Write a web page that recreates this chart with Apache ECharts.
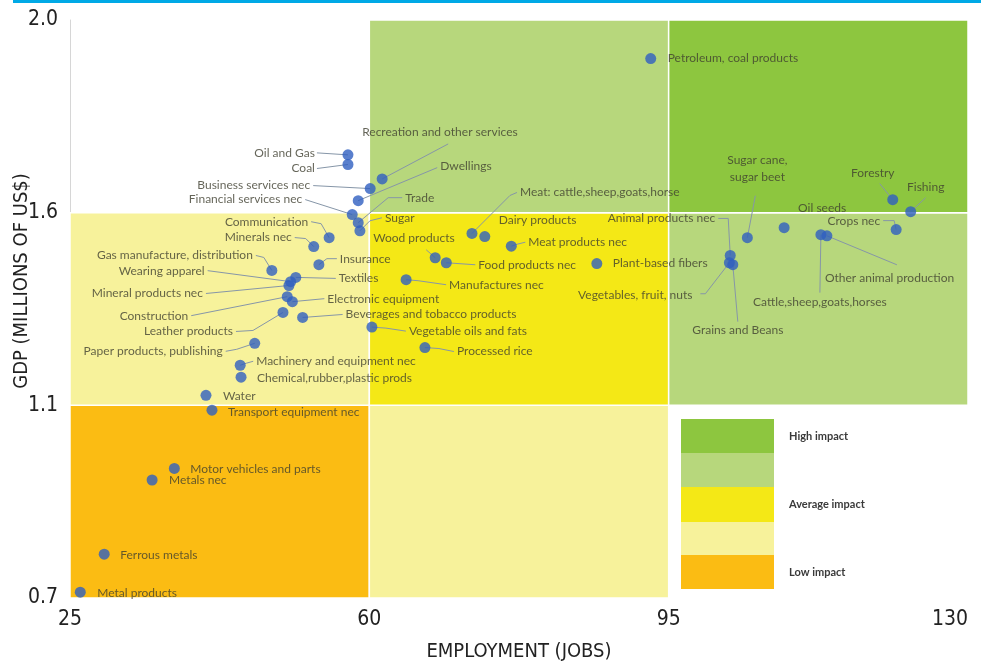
<!DOCTYPE html>
<html>
<head>
<meta charset="utf-8">
<title>GDP vs employment impact</title>
<script src="https://cdn.jsdelivr.net/npm/echarts@6/dist/echarts.min.js"></script>
<style>
  html, body { margin: 0; padding: 0; background: #fff; }
  #main { width: 981px; height: 664px; }
</style>
</head>
<body>
<div id="main"></div>
<script>
  // sectors, employment (jobs) and GDP (millions of US$)
  var sectors = [
    'Petroleum, coal products', 'Oil and Gas', 'Coal', 'Recreation and other services',
    'Business services nec', 'Dwellings', 'Financial services nec', 'Trade', 'Sugar',
    'Communication', 'Minerals nec', 'Insurance', 'Gas manufacture, distribution',
    'Textiles', 'Wearing apparel', 'Mineral products nec', 'Construction',
    'Electronic equipment', 'Leather products', 'Beverages and tobacco products',
    'Paper products, publishing', 'Machinery and equipment nec', 'Chemical,rubber,plastic prods',
    'Water', 'Transport equipment nec', 'Motor vehicles and parts', 'Metals nec',
    'Ferrous metals', 'Metal products', 'Vegetable oils and fats', 'Processed rice',
    'Manufactures nec', 'Wood products', 'Food products nec', 'Meat: cattle,sheep,goats,horse',
    'Dairy products', 'Meat products nec', 'Plant-based fibers', 'Animal products nec',
    'Vegetables, fruit, nuts', 'Grains and Beans', 'Sugar cane,\nsugar beet', 'Oil seeds',
    'Cattle,sheep,goats,horses', 'Other animal production', 'Forestry', 'Fishing', 'Crops nec'
  ];
  var employment = [
    92.9, 57.5, 57.5, 61.5,
    60.1, 58.7, 58.0, 58.7, 58.9,
    55.3, 53.5, 54.1, 48.6,
    51.4, 50.8, 50.6, 50.4,
    51.0, 49.9, 52.2,
    46.6, 44.9, 45.0,
    40.9, 41.6, 37.2, 34.6,
    29.0, 26.2, 60.3, 66.5,
    64.3, 67.7, 69.0, 72.0,
    73.5, 76.6, 86.6, 102.2,
    102.1, 102.5, 104.2, 108.5,
    112.8, 113.5, 121.2, 123.3, 121.6
  ];
  var gdp = [
    1.92, 1.72, 1.70, 1.67,
    1.65, 1.625, 1.595, 1.574, 1.553,
    1.535, 1.512, 1.465, 1.45,
    1.432, 1.421, 1.411, 1.382,
    1.369, 1.341, 1.328,
    1.261, 1.204, 1.173,
    1.126, 1.09, 0.969, 0.945,
    0.791, 0.712, 1.303, 1.25,
    1.426, 1.483, 1.47, 1.546,
    1.538, 1.513, 1.468, 1.489,
    1.47, 1.465, 1.535, 1.561,
    1.543, 1.54, 1.627, 1.602, 1.556
  ];
  var xTicks = [25, 60, 95, 130];
  var yTicks = [0.7, 1.1, 1.6, 2.0];
  var impactLabels = ['High impact', 'Average impact', 'Low impact'];

  // label placement: side, offset from dot, leader line points (relative to dot)
  var labelSpecs = [
    ['R', 17, 0], ['L', -33, -2, [[-31, -2]]], ['L', -33, 4, [[-31, 4]]], ['R', -20, -47, [[66, -35]]],
    ['L', -60, -3, [[-57, -3]]], ['R', 82, -35, [[79, -33]]], ['L', -50, -15, [[-47, -15]]],
    ['R', 47, -25, [[44, -25], [30, -25]]], ['R', 25, -13, [[22, -13], [10, -10]]],
    ['L', -21, -16, [[-18, -16], [-8, -14]]], ['L', -22, -9, [[-19, -9], [-8, -8]]],
    ['R', 21, -6, [[18, -6], [8, -6]]], ['L', -19, -15, [[-16, -15], [-8, -13]]],
    ['R', 43, 1, [[40, 1]]], ['L', -86, -11, [[-83, -11]]], ['L', -86, 8, [[-83, 8]]],
    ['L', -99, 19, [[-96, 19]]], ['R', 35, -3, [[32, -3]]], ['L', -50, 19, [[-47, 19], [-30, 18]]],
    ['R', 43, -3, [[40, -3]]], ['L', -32, 8, [[-29, 8], [-18, 6]]],
    ['R', 16, -4, [[13, -4], [6, -2]]], ['R', 16, 1],
    ['R', 17, 1], ['R', 16, 2], ['R', 16, 1], ['R', 17, 0],
    ['R', 16, 1], ['R', 17, 1], ['R', 37, 4, [[34, 4], [14, 1]]], ['R', 32, 4, [[29, 4], [14, 1]]],
    ['R', 43, 5, [[40, 5], [12, 1]]], ['R', -62, -20, [[-9, -8]]], ['R', 32, 2, [[29, 2]]],
    ['R', 48, -41, [[45, -41], [38, -38]]],
    ['R', 14, -16], ['R', 17, -4, [[14, -4], [6, -2]]], ['R', 16, 0],
    ['L', -15, -37, [[-12, -37], [-2, -37]]],
    ['L', -37, 32, [[-29, 31], [-24, 31]]], ['C', 5, 65, [[5, 57]]], ['C', 10, -69, [[8, -42]]],
    ['R', 14, -20],
    ['C', -1, 67, [[-1, 58]]], ['R', -2, 42, [[70, 29]]], ['C', -20, -27, [[-13, -16]]],
    ['C', 15, -25, [[15, -14]]], ['L', -16, -8, [[-13, -9], [-2, -9]]]
  ];

  var darkGreen = '#8dc63f', lightGreen = '#b7d77c', yellow = '#f4e816',
      lightYellow = '#f7f29b', orange = '#fbbc13';
  var narrow = "'Liberation Sans Narrow', 'DejaVu Sans Condensed', sans-serif";

  // the y axis spaces its ticks evenly, so map GDP piecewise onto tick positions
  function yPos(v) {
    for (var i = 0; i < yTicks.length - 1; i++) {
      if (v <= yTicks[i + 1] || i === yTicks.length - 2) {
        return i + (v - yTicks[i]) / (yTicks[i + 1] - yTicks[i]);
      }
    }
  }

  function zone(c, r, color) {
    return [
      { xAxis: xTicks[c], yAxis: r, itemStyle: { color: color } },
      { xAxis: xTicks[c + 1], yAxis: r + 1 }
    ];
  }

  var points = sectors.map(function (name, i) {
    var s = labelSpecs[i];
    return {
      name: name,
      value: [employment[i], yPos(gdp[i])],
      label: {
        position: [5.5 + s[1], 5.5 + s[2]],
        align: s[0] === 'L' ? 'right' : (s[0] === 'C' ? 'center' : 'left'),
        verticalAlign: 'middle'
      }
    };
  });

  var option = {
    animation: false,
    backgroundColor: '#fff',
    grid: { left: 70, right: 13, top: 20, bottom: 66, containLabel: false, outerBoundsMode: 'none' },
    xAxis: {
      type: 'value', min: 25, max: 130, interval: 35,
      name: 'EMPLOYMENT (JOBS)', nameLocation: 'middle', nameGap: 44,
      nameTextStyle: { fontFamily: narrow, fontSize: 20, color: '#222' },
      axisLine: { show: false }, axisTick: { show: false }, splitLine: { show: false },
      axisLabel: { fontFamily: narrow, fontSize: 21, color: '#222', margin: 11, alignMaxLabel: 'right' }
    },
    yAxis: {
      type: 'value', min: 0, max: 3, interval: 1,
      axisLine: { show: true, lineStyle: { color: '#d6d6d6', width: 1 } },
      axisTick: { show: false }, splitLine: { show: false },
      axisLabel: {
        fontFamily: narrow, fontSize: 21, color: '#222', margin: 12,
        formatter: function (v) { return yTicks[v].toFixed(1); }
      }
    },
    series: [{
      type: 'scatter',
      z: 10,
      symbolSize: 11,
      itemStyle: { color: '#2f5fc0' },
      label: {
        show: true,
        formatter: '{b}',
        fontFamily: 'Lato, sans-serif',
        fontSize: 12,
        lineHeight: 17,
        color: '#3e3e30'
      },
      data: points,
      markArea: {
        silent: true,
        z: 1,
        itemStyle: { borderColor: '#fff', borderWidth: 1.5 },
        data: [
          zone(0, 0, orange), zone(1, 0, lightYellow),
          zone(0, 1, lightYellow), zone(1, 1, yellow), zone(2, 1, lightGreen),
          zone(1, 2, lightGreen), zone(2, 2, darkGreen)
        ]
      }
    }]
  };

  var chart = echarts.init(document.getElementById('main'));
  chart.setOption(option);

  var graphics = [
    { type: 'rect', z: 5, silent: true, shape: { x: 13, y: 0, width: 968, height: 3 }, style: { fill: '#00a9e6' } },
    {
      type: 'text', z: 5, silent: true, x: 22, y: 281, rotation: Math.PI / 2,
      style: { text: 'GDP (MILLIONS OF US$)', font: '20px ' + narrow, fill: '#222', textAlign: 'center', textVerticalAlign: 'middle' }
    }
  ];
  // legend boxes
  var legendColors = [darkGreen, lightGreen, yellow, lightYellow, orange];
  var legendTops = [419, 453, 487, 522, 555, 589];
  legendColors.forEach(function (c, i) {
    graphics.push({
      type: 'rect', z: 5, silent: true,
      shape: { x: 681, y: legendTops[i], width: 93, height: legendTops[i + 1] - legendTops[i] },
      style: { fill: c }
    });
  });
  impactLabels.forEach(function (t, i) {
    var k = i * 2;
    graphics.push({
      type: 'text', z: 5, silent: true, x: 789, y: (legendTops[k] + legendTops[k + 1]) / 2,
      style: { text: t, font: 'bold 11px Lato, sans-serif', fill: '#3a3a3a', textVerticalAlign: 'middle' }
    });
  });
  // leader lines from labels to dots
  sectors.forEach(function (n, i) {
    var s = labelSpecs[i];
    if (!s[3]) return;
    var c = chart.convertToPixel({ gridIndex: 0 }, [employment[i], yPos(gdp[i])]);
    var pts = s[3].map(function (q) { return [c[0] + q[0], c[1] + q[1]]; });
    pts.push(c);
    graphics.push({
      type: 'polyline', z: 5, silent: true,
      shape: { points: pts },
      style: { stroke: '#8696a8', lineWidth: 1, fill: null }
    });
  });
  chart.setOption({ graphic: graphics });
</script>
</body>
</html>
